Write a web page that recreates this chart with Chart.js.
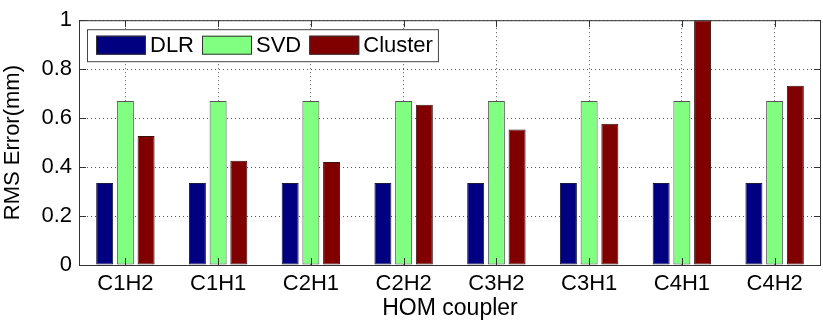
<!DOCTYPE html>
<html lang="en">
<head>
  <meta charset="UTF-8" />
  <title>RMS Error by HOM coupler</title>
  <script src="https://cdn.jsdelivr.net/npm/chart.js"></script>
  <style>
    html, body { margin: 0; padding: 0; background: #fff; }
    #wrap { width: 823px; height: 323px; }
  </style>
</head>
<body>
  <div id="wrap"><canvas id="rmsChart" width="823" height="323"></canvas></div>

  <script>
    // data
    const couplers = ["C1H2", "C1H1", "C2H1", "C2H2", "C3H2", "C3H1", "C4H1", "C4H2"];
    const dlrValues = [0.335, 0.335, 0.335, 0.335, 0.335, 0.335, 0.335, 0.335];
    const svdValues = [0.67, 0.67, 0.67, 0.67, 0.67, 0.67, 0.67, 0.67];
    const clusterValues = [0.527, 0.426, 0.421, 0.655, 0.554, 0.577, 1.0, 0.732];
    const yTicks = [0, 0.2, 0.4, 0.6, 0.8, 1];

    const FONT = "'Liberation Sans', Arial, sans-serif";

    // box around plot + inward tick marks (matlab look)
    const frame = {
      id: "frame",
      afterDatasetsDraw(chart) {
        const { ctx, chartArea: a, scales } = chart;
        ctx.save();
        ctx.strokeStyle = "#333";
        ctx.lineWidth = 1;
        ctx.strokeRect(a.left + 0.5, a.top + 0.5, a.right - a.left - 1, a.bottom - a.top);
        ctx.beginPath();
        scales.x.ticks.forEach((t, i) => {
          const px = Math.round(scales.x.getPixelForTick(i)) + 0.5;
          ctx.moveTo(px, a.top); ctx.lineTo(px, a.top + 7);
          ctx.moveTo(px, a.bottom); ctx.lineTo(px, a.bottom - 7);
        });
        yTicks.forEach(v => {
          const py = Math.round(scales.y.getPixelForValue(v)) + 0.5;
          ctx.moveTo(a.left, py); ctx.lineTo(a.left + 7, py);
          ctx.moveTo(a.right, py); ctx.lineTo(a.right - 7, py);
        });
        ctx.stroke();
        ctx.restore();
      }
    };

    // legend inside the axes, one row, with a frame
    const boxLegend = {
      id: "boxLegend",
      afterDraw(chart) {
        const { ctx, chartArea: a } = chart;
        const sets = chart.data.datasets;
        ctx.save();
        ctx.font = "22px " + FONT;
        const swW = 50, swH = 19, gap = 4, sep = 8;
        const bx = a.left + 8, by = a.top + 9, bh = 32;
        let x = bx + 9;
        const items = sets.map(ds => {
          const it = { ds, x, w: ctx.measureText(ds.label).width };
          x += swW + gap + it.w + sep;
          return it;
        });
        const bw = x - sep + 5 - bx;
        ctx.fillStyle = "#fff";
        ctx.fillRect(bx, by, bw, bh);
        ctx.strokeStyle = "#444";
        ctx.lineWidth = 1;
        ctx.strokeRect(bx + 0.5, by + 0.5, bw, bh);
        items.forEach(it => {
          const sy = by + (bh - swH) / 2;
          ctx.fillStyle = it.ds.backgroundColor;
          ctx.fillRect(it.x, sy, swW, swH);
          ctx.strokeStyle = "#333";
          ctx.strokeRect(it.x + 0.5, sy + 0.5, swW - 1, swH - 1);
          ctx.fillStyle = "#000";
          ctx.textBaseline = "middle";
          ctx.fillText(it.ds.label, it.x + swW + gap, by + bh / 2 + 1);
        });
        ctx.restore();
      }
    };

    const barStyle = { borderWidth: 1, borderSkipped: false, categoryPercentage: 0.67, barPercentage: 0.82 };

    new Chart(document.getElementById("rmsChart"), {
      type: "bar",
      data: {
        labels: couplers,
        datasets: [
          { label: "DLR", data: dlrValues, backgroundColor: "#000080", borderColor: "#1a1a40", ...barStyle },
          { label: "SVD", data: svdValues, backgroundColor: "#80ff80", borderColor: "#555", ...barStyle },
          { label: "Cluster", data: clusterValues, backgroundColor: "#800000", borderColor: "#3a1010", ...barStyle }
        ]
      },
      options: {
        responsive: false,
        animation: false,
        layout: { padding: { top: 18, right: 2, left: 0, bottom: 0 } },
        plugins: {
          tooltip: { enabled: false },
          legend: { display: false }
        },
        scales: {
          x: {
            grid: { offset: false, color: "#555", lineWidth: 1, drawTicks: false, borderDash: [1, 3] },
            border: { display: false, dash: [1, 3] },
            ticks: { font: { family: FONT, size: 22 }, color: "#000", padding: 6, maxRotation: 0 },
            title: { display: true, text: "HOM coupler", font: { family: FONT, size: 23 }, color: "#000", padding: { top: 0, bottom: 1 } },
            afterFit(s) { s.height = 58; }
          },
          y: {
            min: 0,
            max: 1,
            afterBuildTicks(s) { s.ticks = yTicks.map(v => ({ value: v })); },
            grid: { color: "#555", lineWidth: 1, drawTicks: false, borderDash: [1, 3] },
            border: { display: false, dash: [1, 3] },
            ticks: {
              font: { family: FONT, size: 22 },
              color: "#000",
              padding: 7,
              callback: v => String(v)
            },
            title: { display: true, text: "RMS Error(mm)", font: { family: FONT, size: 22 }, color: "#000", padding: { top: 0, bottom: 3 } },
            afterFit(s) { s.width = 79; }
          }
        }
      },
      plugins: [frame, boxLegend]
    });
  </script>
</body>
</html>
